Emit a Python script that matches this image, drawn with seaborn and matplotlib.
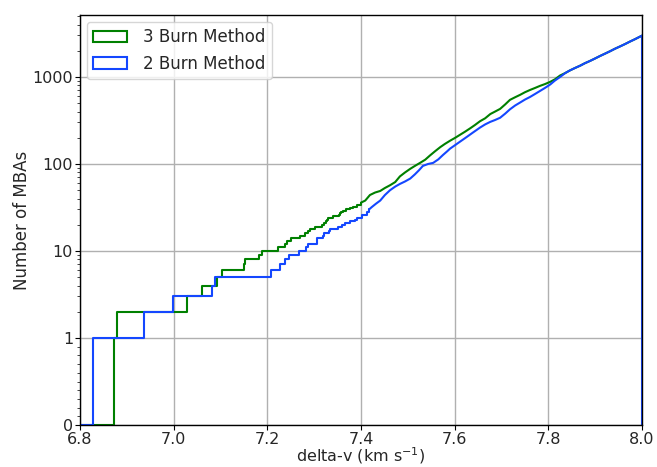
import matplotlib
matplotlib.use("Agg")
import matplotlib.pyplot as plt
from matplotlib.patches import Patch
from matplotlib.ticker import FixedLocator, NullLocator
import pandas as pd
import seaborn as sns

# Cumulative number of main-belt asteroids reachable below a given delta-v (km/s).
# Low counts: each pair (dv, n) marks where the running count steps up to n.
dv_3burn_steps = [6.800, 6.873, 6.879, 7.028, 7.061, 7.093, 7.103, 7.151, 7.153, 7.183,
                  7.188, 7.222, 7.238, 7.242, 7.250, 7.270, 7.280, 7.287, 7.292, 7.302,
                  7.316, 7.320, 7.325, 7.327, 7.330, 7.340, 7.352, 7.355, 7.358, 7.362,
                  7.368, 7.377, 7.383, 7.392, 7.400]
n_3burn_steps = [0, 1, 2, 3, 4, 5, 6, 7, 8, 9,
                 10, 11, 12, 13, 14, 15, 16, 17, 18, 19,
                 20, 21, 22, 23, 24, 25, 26, 27, 28, 29,
                 30, 31, 32, 34, 36]
# High counts: the curve is dense enough to trace point by point.
dv_3burn_dense = [7.400, 7.409, 7.419, 7.430, 7.441, 7.451, 7.462, 7.473, 7.483, 7.494,
                  7.505, 7.515, 7.526, 7.537, 7.547, 7.558, 7.569, 7.579, 7.590, 7.601,
                  7.611, 7.622, 7.633, 7.643, 7.654, 7.665, 7.676, 7.686, 7.697, 7.708,
                  7.718, 7.729, 7.740, 7.750, 7.761, 7.772, 7.782, 7.793, 7.804, 7.814,
                  7.825, 7.836, 7.846, 7.857, 7.868, 7.878, 7.889, 7.900, 7.910, 7.921,
                  7.932, 7.942, 7.953, 7.964, 7.974, 7.985, 8.000, 8.000]
n_3burn_dense = [36, 38, 44, 47, 49, 53, 57, 62, 72, 80,
                 88, 95, 103, 112, 125, 140, 156, 170, 185, 200,
                 216, 235, 257, 280, 310, 335, 375, 400, 430, 485,
                 546, 585, 625, 668, 710, 750, 790, 830, 880, 940,
                 1040, 1110, 1190, 1270, 1350, 1440, 1530, 1635, 1740, 1855,
                 1980, 2110, 2245, 2395, 2550, 2720, 2990, 0]

dv_2burn_steps = [6.800, 6.828, 6.937, 6.998, 7.082, 7.088, 7.207, 7.226, 7.237, 7.247,
                  7.267, 7.283, 7.287, 7.305, 7.307, 7.318, 7.320, 7.332, 7.334, 7.350,
                  7.359, 7.366, 7.377, 7.387, 7.392, 7.402, 7.412, 7.417]
n_2burn_steps = [0, 1, 2, 3, 4, 5, 6, 7, 8, 9,
                 10, 11, 12, 13, 14, 15, 16, 17, 18, 19,
                 20, 21, 22, 23, 24, 26, 28, 30]
dv_2burn_dense = [7.417, 7.423, 7.432, 7.441, 7.451, 7.462, 7.473, 7.483, 7.494, 7.505,
                  7.515, 7.524, 7.532, 7.543, 7.554, 7.565, 7.575, 7.584, 7.590, 7.601,
                  7.611, 7.626, 7.639, 7.654, 7.665, 7.676, 7.686, 7.697, 7.708, 7.718,
                  7.729, 7.740, 7.750, 7.761, 7.772, 7.782, 7.793, 7.804, 7.814, 7.825,
                  7.836, 7.846, 7.857, 7.868, 7.878, 7.889, 7.900, 7.910, 7.921, 7.932,
                  7.942, 7.953, 7.964, 7.974, 7.985, 8.000, 8.000]
n_2burn_dense = [30, 32, 35, 38, 44, 50, 55, 59, 63, 68,
                 76, 85, 95, 100, 103, 113, 127, 140, 150, 165,
                 180, 205, 230, 262, 285, 305, 320, 340, 380, 425,
                 470, 510, 550, 590, 640, 690, 750, 820, 910, 1000,
                 1110, 1190, 1270, 1350, 1440, 1530, 1635, 1740, 1855, 1980,
                 2110, 2245, 2395, 2550, 2720, 2990, 0]

methods = ["3 Burn Method", "2 Burn Method"]
colors = ["#008000", "#1447ff"]

x_ticks = [6.8, 7.0, 7.2, 7.4, 7.6, 7.8, 8.0]
y_ticks = [0, 1, 10, 100, 1000]

steps = pd.concat([
    pd.DataFrame({"dv": dv_3burn_steps, "n": n_3burn_steps, "method": methods[0]}),
    pd.DataFrame({"dv": dv_2burn_steps, "n": n_2burn_steps, "method": methods[1]}),
], ignore_index=True)
dense = pd.concat([
    pd.DataFrame({"dv": dv_3burn_dense, "n": n_3burn_dense, "method": methods[0]}),
    pd.DataFrame({"dv": dv_2burn_dense, "n": n_2burn_dense, "method": methods[1]}),
], ignore_index=True)

sns.set_style("ticks")
plt.rcParams["font.family"] = ["DejaVu Sans"]
fs = 12

fig, ax = plt.subplots(figsize=(6.57, 4.67), dpi=100)
fig.subplots_adjust(left=0.1218, right=0.9772, bottom=0.0899, top=0.9679)

ax.set_yscale("symlog", linthresh=1, linscale=0.9)

sns.lineplot(data=steps, x="dv", y="n", hue="method", hue_order=methods,
             palette=colors, drawstyle="steps-post", estimator=None,
             sort=False, linewidth=1.5, legend=False, ax=ax)
sns.lineplot(data=dense, x="dv", y="n", hue="method", hue_order=methods,
             palette=colors, estimator=None, sort=False, linewidth=1.5,
             legend=False, ax=ax)

ax.set_xlim(6.8, 8.0)
ax.set_ylim(0, 5160)

ax.xaxis.set_major_locator(FixedLocator(x_ticks))
ax.set_xticklabels([f"{t:.1f}" for t in x_ticks])
ax.xaxis.set_minor_locator(NullLocator())

ax.yaxis.set_major_locator(FixedLocator(y_ticks))
ax.set_yticklabels([str(t) for t in y_ticks])
minor = [k / 10 for k in range(1, 10)] + [m * 10 ** e for e in range(0, 4) for m in range(2, 10)]
ax.yaxis.set_minor_locator(FixedLocator(minor))

ax.tick_params(axis="both", which="major", direction="out", length=3.5, width=0.8,
               labelsize=11.5, color="black", pad=1.5)
ax.tick_params(axis="y", which="minor", direction="out", length=2, width=0.6)

ax.grid(True, which="major", color="#b0b0b0", linewidth=1.0)
for s in ax.spines.values():
    s.set_color("black")
    s.set_linewidth(1.0)

ax.set_xlabel("delta-v (km s$^{-1}$)", fontsize=11.5, labelpad=-1)
ax.set_ylabel("Number of MBAs", fontsize=fs, labelpad=1)

handles = [Patch(facecolor="none", edgecolor=c, linewidth=1.5, label=m)
           for m, c in zip(methods, colors)]
ax.legend(handles=handles, loc="upper left", fontsize=fs, frameon=True,
          framealpha=0.8, edgecolor="#cccccc", fancybox=True, handletextpad=1.0,
          borderaxespad=0.4)

fig.savefig("out.png", dpi=100)
